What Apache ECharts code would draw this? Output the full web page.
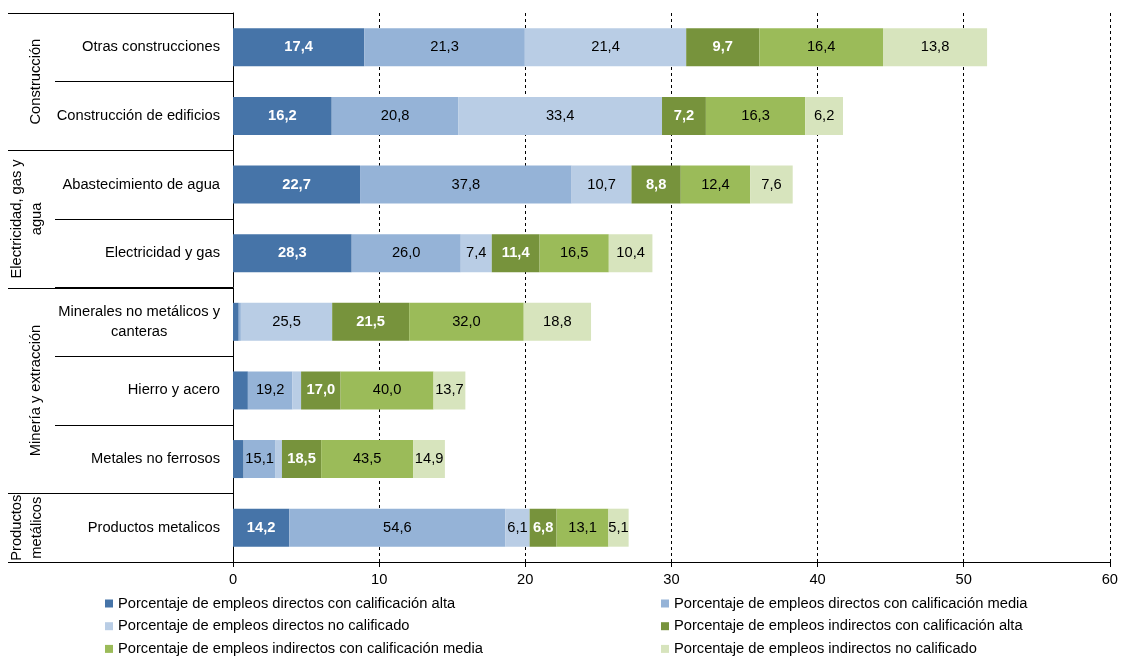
<!DOCTYPE html>
<html>
<head>
<meta charset="utf-8">
<script src="https://cdn.jsdelivr.net/npm/echarts@6/dist/echarts.min.js"></script>
<style>
  html, body { margin: 0; padding: 0; background: #fff; }
  #chart { width: 1121px; height: 656px; }
</style>
</head>
<body>
<div id="chart"></div>
<script>
// categories, top to bottom
const categories = [
  "Otras construcciones",
  "Construcción de edificios",
  "Abastecimiento de agua",
  "Electricidad y gas",
  "Minerales no metálicos y\ncanteras",
  "Hierro y acero",
  "Metales no ferrosos",
  "Productos metalicos"
];
// grupos (rotated labels on the left) and how many categories each spans
const groupNames = ["Construcción", "Electricidad, gas y\nagua", "Minería y extracción", "Productos\nmetálicos"];
const groupSizes = [2, 2, 3, 1];

// total length of each bar (axis units)
const totals = [51.6, 41.7, 38.3, 28.7, 24.5, 15.9, 14.5, 27.1];

// share (%) of each segment, shown as the label
const dirAlta = [17.4, 16.2, 22.7, 28.3, 1.6, 6.4, 5.0, 14.2];
const dirMedia = [21.3, 20.8, 37.8, 26.0, 0.6, 19.2, 15.1, 54.6];
const dirNoCalif = [21.4, 33.4, 10.7, 7.4, 25.5, 3.7, 3.0, 6.1];
const indAlta = [9.7, 7.2, 8.8, 11.4, 21.5, 17.0, 18.5, 6.8];
const indMedia = [16.4, 16.3, 12.4, 16.5, 32.0, 40.0, 43.5, 13.1];
const indNoCalif = [13.8, 6.2, 7.6, 10.4, 18.8, 13.7, 14.9, 5.1];

const seriesNames = [
  "Porcentaje de empleos directos con calificación alta",
  "Porcentaje de empleos directos con calificación media",
  "Porcentaje de empleos directos no calificado",
  "Porcentaje de empleos indirectos con calificación alta",
  "Porcentaje de empleos indirectos con calificación media",
  "Porcentaje de empleos indirectos no calificado"
];
const xTicks = [0, 10, 20, 30, 40, 50, 60];

const shares = [dirAlta, dirMedia, dirNoCalif, indAlta, indMedia, indNoCalif];
const colors = ["#4674A8", "#95B3D7", "#B9CDE5", "#77933C", "#9BBB59", "#D7E4BD"];
const darkSeg = [true, false, false, true, false, false];
const FONT = "'Liberation Sans', Arial, sans-serif";
const FS = 14.7;

function fmt(v) {
  return v.toFixed(1).replace(".", ",");
}

const chart = echarts.init(document.getElementById("chart"));

const series = seriesNames.map((name, s) => ({
  name: name,
  type: "bar",
  stack: "total",
  barWidth: 38,
  itemStyle: { color: colors[s] },
  emphasis: { disabled: true },
  data: shares[s].map((p, i) => ({ value: p * totals[i] / 100, pct: p })),
  label: {
    show: true,
    position: "inside",
    fontFamily: FONT,
    fontSize: FS,
    color: darkSeg[s] ? "#fff" : "#000",
    fontWeight: darkSeg[s] ? "bold" : "normal",
    // tiny segments carry no label in the original
    formatter: p => (p.value < 1.2 ? "" : fmt(p.data.pct))
  }
}));

// legend: 3 rows x 2 columns
const legends = seriesNames.map((name, s) => ({
  data: [name],
  left: s % 2 === 0 ? 105 : 661,
  top: 596 + Math.floor(s / 2) * 22.7,
  padding: 0,
  icon: "rect",
  itemWidth: 8,
  itemHeight: 8,
  selectedMode: false,
  textStyle: { fontFamily: FONT, fontSize: FS, color: "#000" }
}));

chart.setOption({
  animation: false,
  backgroundColor: "#fff",
  grid: { left: 233, right: 10, top: 13, bottom: 94 },
  legend: legends,
  xAxis: {
    type: "value",
    min: 0,
    max: 60,
    interval: 10,
    axisLine: { show: true, lineStyle: { color: "#000", width: 1 } },
    axisTick: { show: true, length: 5, lineStyle: { color: "#000" } },
    axisLabel: {
      fontFamily: FONT,
      fontSize: FS,
      color: "#000",
      margin: 10,
      formatter: v => (xTicks.includes(v) ? String(v) : "")
    },
    splitLine: { show: true, lineStyle: { color: "#000", type: [3, 3], width: 1 } }
  },
  yAxis: {
    type: "category",
    inverse: true,
    data: categories,
    axisLine: { show: true, lineStyle: { color: "#000", width: 1 } },
    axisTick: { show: true, length: 178, lineStyle: { color: "#000", width: 1 } },
    axisLabel: {
      margin: 13,
      fontFamily: FONT,
      fontSize: FS,
      color: "#000",
      lineHeight: 20,
      formatter: v => v.split("\n").map(t => "{c|" + t + "}").join("\n"),
      rich: { c: { align: "center", fontFamily: FONT, fontSize: FS, color: "#000", lineHeight: 20 } }
    }
  },
  series: series
});

// group separators and rotated group labels, placed from the axis scale
const axisX = chart.convertToPixel({ xAxisIndex: 0 }, 0);
const c0 = chart.convertToPixel({ yAxisIndex: 0 }, categories[0]);
const c1 = chart.convertToPixel({ yAxisIndex: 0 }, categories[1]);
const band = c1 - c0;
const plotTop = c0 - band / 2;

const graphics = [];
let start = 0;
graphics.push({
  type: "line",
  shape: { x1: 8, y1: Math.round(plotTop) + 0.5, x2: axisX, y2: Math.round(plotTop) + 0.5 },
  style: { stroke: "#000", lineWidth: 1 }
});
groupSizes.forEach((n, g) => {
  const yA = plotTop + start * band;
  const yB = plotTop + (start + n) * band;
  graphics.push({
    type: "line",
    shape: { x1: 8, y1: Math.round(yB) + 0.5, x2: axisX, y2: Math.round(yB) + 0.5 },
    style: { stroke: "#000", lineWidth: 1 }
  });
  const lines = groupNames[g].split("\n").length;
  graphics.push({
    type: "text",
    x: lines > 1 ? 27 : 36,
    y: (yA + yB) / 2,
    rotation: Math.PI / 2,
    style: {
      text: groupNames[g],
      fontFamily: FONT,
      fontSize: FS,
      lineHeight: 20,
      fill: "#000",
      align: "center",
      verticalAlign: "middle"
    }
  });
  start += n;
});
chart.setOption({ graphic: graphics });
</script>
</body>
</html>
